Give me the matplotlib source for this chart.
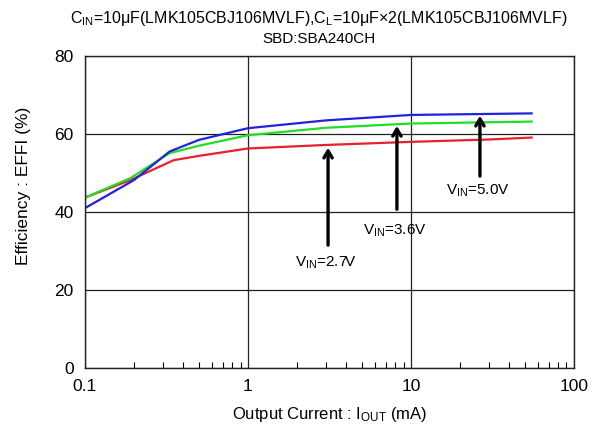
import numpy as np
import matplotlib
matplotlib.use('Agg')
import matplotlib.pyplot as plt
from matplotlib.ticker import LogLocator, NullFormatter

plt.rcParams['font.family'] = ['Liberation Sans', 'DejaVu Sans']
plt.rcParams['mathtext.fontset'] = 'custom'
plt.rcParams['mathtext.rm'] = 'Liberation Sans'
plt.rcParams['mathtext.it'] = 'Liberation Sans'

# efficiency curves (mA, %)
i_50 = [0.1, 0.2, 0.33, 0.5, 1.0, 3.0, 10.0, 55.0]
eff_50 = [41.0, 48.2, 55.5, 58.5, 61.5, 63.5, 64.9, 65.3]

i_36 = [0.1, 0.19, 0.33, 0.5, 1.0, 3.0, 10.0, 55.0]
eff_36 = [43.7, 48.7, 55.1, 57.0, 59.7, 61.6, 62.7, 63.2]

i_27 = [0.1, 0.19, 0.35, 0.5, 1.0, 3.0, 10.0, 30.0, 55.0]
eff_27 = [43.7, 48.2, 53.3, 54.4, 56.3, 57.2, 58.0, 58.6, 59.1]

# annotations: label, arrow x, tip y, tail y, text y
notes = [
    (r'V$_{\mathregular{IN}}$=2.7V', 3.1, 57.2, 30.8, 27.0),
    (r'V$_{\mathregular{IN}}$=3.6V', 8.2, 62.8, 40.0, 35.3),
    (r'V$_{\mathregular{IN}}$=5.0V', 26.5, 65.4, 48.5, 45.5),
]

fig = plt.figure(figsize=(6.01, 4.28), dpi=100)
ax = fig.add_axes([0.1414, 0.1402, 0.8136, 0.7288])

ax.plot(i_27, eff_27, color='#e8202a', lw=1.6)
ax.plot(i_36, eff_36, color='#22dd22', lw=1.6)
ax.plot(i_50, eff_50, color='#2222dd', lw=1.6)

ax.set_xscale('log')
ax.set_xlim(0.1, 100)
ax.set_ylim(0, 80)
ax.set_xticks([0.1, 1, 10, 100])
ax.set_xticklabels(['0.1', '1', '10', '100'])
ax.set_yticks([0, 20, 40, 60, 80])
ax.xaxis.set_minor_locator(LogLocator(base=10, subs=np.arange(2, 10)))
ax.xaxis.set_minor_formatter(NullFormatter())
ax.tick_params(which='major', length=0, labelsize=12.5, pad=8)
ax.tick_params(axis='x', which='minor', direction='in', length=4, width=0.8)
ax.grid(True, which='major', color='#222222', lw=0.9)
for s in ax.spines.values():
    s.set_linewidth(1.0)
    s.set_color('#222222')

for label, x, tip, tail, ty in notes:
    ax.annotate('', xy=(x, tip), xytext=(x, tail),
                arrowprops=dict(arrowstyle='->,head_width=0.3,head_length=0.5',
                                color='black', lw=2.4))
    ax.text(x * 0.97, ty, label, ha='center', va='center', fontsize=11)

ax.set_xlabel(r'Output Current : I$_{\mathregular{OUT}}$ (mA)', fontsize=12, labelpad=8)
ax.set_ylabel('Efficiency : EFFI (%)', fontsize=12.5)
ax.yaxis.set_label_coords(-0.11, 0.585)

fig.text(0.53, 0.957, r'C$_{\mathregular{IN}}$=10μF(LMK105CBJ106MVLF),C$_{\mathregular{L}}$=10μF×2(LMK105CBJ106MVLF)',
         ha='center', va='center', fontsize=11.5)
fig.text(0.53, 0.91, 'SBD:SBA240CH', ha='center', va='center', fontsize=11)

fig.savefig('out.png', dpi=100)
